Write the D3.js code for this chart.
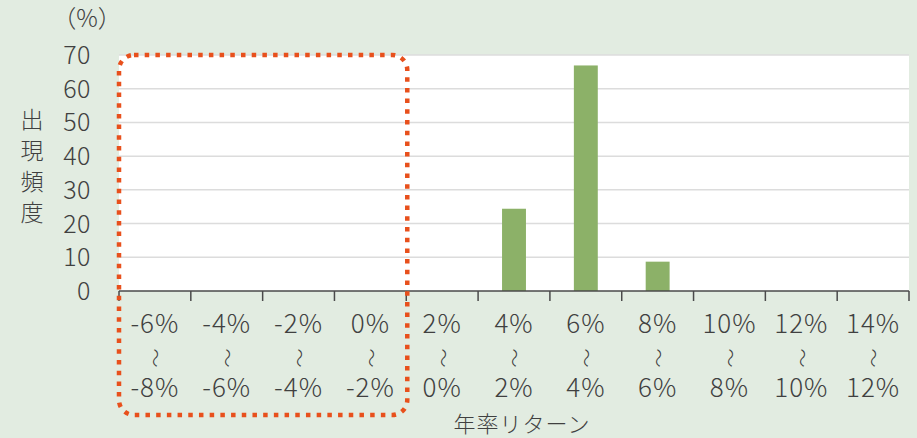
<!DOCTYPE html>
<html>
<head>
<meta charset="utf-8">
<script src="https://cdn.jsdelivr.net/npm/d3@7"></script>
<style>
  html, body { margin: 0; padding: 0; background: #e2ece1; }
  svg { display: block; }
  text { font-family: "Noto Sans CJK JP", "Noto Sans", sans-serif; fill: #404040; font-weight: 300; }
</style>
</head>
<body>
<svg id="chart" width="917" height="438"></svg>
<script>
// Return bands (upper bound / lower bound of annual return)
const bandUpper = ["-6%", "-4%", "-2%", "0%", "2%", "4%", "6%", "8%", "10%", "12%", "14%"];
const bandLower = ["-8%", "-6%", "-4%", "-2%", "0%", "2%", "4%", "6%", "8%", "10%", "12%"];
// Frequency of occurrence (%)
const frequency = [0, 0, 0, 0, 0, 24.4, 66.9, 8.7, 0, 0, 0];
const yTicks = [0, 10, 20, 30, 40, 50, 60, 70];

const svg = d3.select("#chart");
const plotL = 119, plotR = 909, plotT = 55, plotB = 291;

const x = d3.scaleBand().domain(d3.range(bandUpper.length)).range([plotL, plotR]).paddingInner(0.667).paddingOuter(0.333);
const xEdge = d3.scaleLinear().domain([0, bandUpper.length]).range([plotL, plotR]);
const y = d3.scaleLinear().domain([0, 70]).range([plotB, plotT]);

// plot area
svg.append("rect").attr("x", plotL).attr("y", plotT).attr("width", plotR - plotL).attr("height", plotB - plotT).attr("fill", "#ffffff");

// gridlines
svg.append("g").selectAll("line").data(yTicks.filter(d => d > 0)).join("line")
  .attr("x1", plotL).attr("x2", plotR)
  .attr("y1", d => y(d)).attr("y2", d => y(d))
  .attr("stroke", "#dcdcdc").attr("stroke-width", 1.5);

// bars
svg.append("g").selectAll("rect").data(frequency).join("rect")
  .attr("x", (d, i) => x(i)).attr("width", x.bandwidth())
  .attr("y", d => y(d)).attr("height", d => y(0) - y(d))
  .attr("fill", "#8cb168");

// y axis labels
svg.append("g").selectAll("text").data(yTicks).join("text")
  .attr("x", 91).attr("y", d => y(d))
  .attr("dy", "0.36em").attr("text-anchor", "end")
  .attr("font-size", 25).attr("letter-spacing", 0.5).text(d => d);

// x axis line and ticks
const ax = svg.append("g").attr("stroke", "#4a4a4a").attr("stroke-width", 1.5);
ax.append("line").attr("x1", plotL).attr("x2", plotR).attr("y1", plotB).attr("y2", plotB);
ax.selectAll("line.tick").data(d3.range(bandUpper.length + 1)).join("line").attr("class", "tick")
  .attr("x1", d => xEdge(d)).attr("x2", d => xEdge(d))
  .attr("y1", plotB).attr("y2", plotB + 10);

// x category labels: upper bound, wave dash, lower bound
const cats = svg.append("g").selectAll("g").data(bandUpper).join("g")
  .attr("transform", (d, i) => `translate(${x(i) + x.bandwidth() / 2},0)`);
cats.append("text").attr("y", 333).attr("text-anchor", "middle").attr("font-size", 26)
  .attr("letter-spacing", 1).text(d => d);
cats.append("text").attr("transform", "translate(0,358) rotate(90)")
  .attr("text-anchor", "middle").attr("dy", "0.35em").attr("font-size", 19).text("～");
cats.append("text").attr("y", 397).attr("text-anchor", "middle").attr("font-size", 26)
  .attr("letter-spacing", 1).text((d, i) => bandLower[i]);

// axis titles
svg.append("text").attr("x", 87).attr("y", 27).attr("text-anchor", "middle").attr("font-size", 24).text("（%）");
svg.append("g").selectAll("text").data(["出", "現", "頻", "度"]).join("text")
  .attr("x", 32).attr("y", (d, i) => 128 + i * 31).attr("text-anchor", "middle")
  .attr("font-size", 23).text(d => d);
svg.append("text").attr("x", 522).attr("y", 432).attr("text-anchor", "middle").attr("font-size", 22)
  .attr("letter-spacing", 1).text("年率リターン");

// highlight of the negative-return bands
svg.append("rect")
  .attr("x", xEdge(0)).attr("y", plotT)
  .attr("width", xEdge(4) - xEdge(0) + 1).attr("height", 415 - plotT)
  .attr("rx", 15).attr("ry", 15)
  .attr("fill", "none").attr("stroke", "#e8501c").attr("stroke-width", 4.5)
  .attr("stroke-dasharray", "4.5 6.2");
</script>
</body>
</html>
